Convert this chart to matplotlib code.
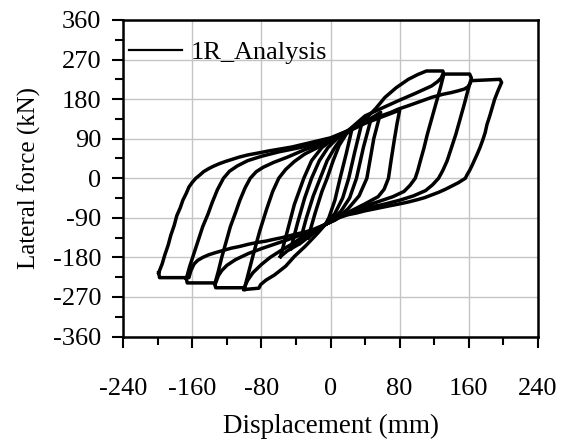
import matplotlib
matplotlib.use("Agg")
import matplotlib.pyplot as plt
from matplotlib.ticker import MultipleLocator

plt.rcParams["font.family"] = ["Liberation Serif", "DejaVu Serif"]
plt.rcParams["axes.unicode_minus"] = False

# hysteresis loops (displacement mm, force kN)
# each loop: negative tip -> reload to positive tip -> unload -> back to negative tip
loop1_disp = [-26, -18, -10, -4, 3, 10, 18, 25, 18, 11, 5, -2, -6, -15, -26]
loop1_force = [-135, -80, -30, 0, 40, 75, 100, 114, 55, 0, -50, -90, -105, -115, -135]

loop2_disp = [-36, -28, -20, -12, -4, 5, 14, 22, 36, 28, 21, 14, 5, -6, -20, -36]
loop2_force = [-148, -90, -40, 0, 40, 70, 95, 110, 124, 60, 0, -45, -80, -105, -122, -148]

loop3_disp = [-46, -38, -30, -22, -13, -3, 10, 20, 35, 47, 38, 30, 22, 12, 0, -6, -20, -35, -46]
loop3_force = [-160, -100, -45, 0, 40, 70, 95, 108, 122, 136, 70, 0, -45, -75, -98, -105, -122, -142, -160]

loop4_disp = [-58, -50, -42, -31, -22, -10, 5, 20, 40, 58, 50, 42, 33, 20, 5, -6, -20, -35, -50, -58]
loop4_force = [-178, -120, -60, 0, 40, 70, 92, 108, 128, 150, 90, 0, -40, -70, -95, -105, -125, -148, -165, -178]

loop5_disp = [-100, -95, -89, -82, -74, -67, -60, -52, -42, -30, -10, 8, 20, 40, 60, 80,
              77, 74, 70, 67, 62, 55, 40, 20, 5, -6, -15, -29, -42, -52, -65, -75, -81, -83, -100]
loop5_force = [-253, -215, -170, -120, -70, -30, 0, 20, 38, 55, 75, 92, 106, 125, 140, 155,
               125, 90, 40, 0, -25, -42, -58, -78, -95, -105, -125, -154, -178, -200, -220, -232, -242, -250, -253]

loop6_disp = [-134, -130, -126, -121, -116, -110, -105, -99, -93, -86, -78, -66, -50, -30, 0, 20, 40, 52,
              63, 76, 90, 101, 111, 130, 131, 127, 122, 117, 112, 108, 104, 101, 98, 92, 85, 72, 60, 45,
              30, 8, -6, -22, -35, -45, -58, -70, -80, -90, -96, -100, -133, -134]
loop6_force = [-240, -212, -180, -145, -110, -78, -50, -22, 0, 15, 25, 36, 48, 65, 85, 106, 134, 158,
               184, 206, 225, 236, 244, 244, 236, 205, 170, 135, 100, 68, 40, 18, 0, -16, -30, -42, -50, -60,
               -70, -90, -105, -124, -137, -150, -165, -180, -196, -215, -232, -249, -249, -240]

loop7_disp = [-167, -163, -158, -153, -148, -142, -137, -131, -124, -117, -108, -96, -80, -60, -30, 0, 20,
              40, 60, 78, 98, 117, 124, 128, 130, 161, 163, 159, 155, 150, 145, 140, 135, 130, 125, 118,
              110, 96, 80, 60, 40, 10, -6, -22, -36, -50, -65, -80, -95, -110, -120, -126, -130, -133,
              -166, -167]
loop7_force = [-228, -200, -170, -140, -110, -82, -55, -26, 0, 16, 28, 40, 50, 60, 72, 90, 108,
               142, 160, 176, 193, 210, 220, 228, 237, 237, 228, 200, 170, 135, 100, 70, 40, 18, 0, -15,
               -28, -40, -50, -60, -68, -88, -105, -120, -130, -140, -150, -160, -171, -185, -198, -210, -222, -238,
               -238, -228]

loop8_disp = [-199, -195, -192, -188, -185, -181, -178, -174, -171, -167, -164, -160, -156, -151, -147,
              -141, -136, -129, -122, -114, -106, -96, -85, -72, -60, -45, -30, -15, 0, 10, 20, 30, 40,
              50, 60, 70, 78, 90, 100, 110, 117, 130, 140, 148, 155, 159, 161, 163, 196, 198, 194, 190,
              187, 184, 181, 179, 176, 173, 170, 167, 164, 161, 158, 156, 152, 148, 144, 140, 133, 125,
              117, 109, 100, 90, 78, 70, 60, 50, 40, 30, 20, 9, -6, -22, -31, -40, -48, -56, -66, -75,
              -85, -95, -105, -115, -124, -133, -141, -148, -154, -158, -160, -162, -164, -198, -199]
loop8_force = [-215, -195, -175, -152, -130, -107, -85, -67, -50, -34, -20, -9, 0, 8, 15,
               22, 27, 33, 38, 43, 48, 53, 57, 62, 66, 71, 78, 85, 92, 100, 108, 118, 127,
               135, 143, 150, 157, 165, 172, 179, 184, 191, 195, 199, 203, 208, 214, 222, 225, 218, 200, 180,
               160, 140, 122, 104, 86, 70, 56, 43, 30, 18, 8, 0, -5, -10, -14, -18, -25, -32,
               -38, -44, -49, -54, -59, -62, -66, -70, -74, -79, -83, -90, -105, -118, -123, -127, -131, -135, -139, -143,
               -146, -150, -155, -159, -164, -169, -174, -180, -187, -195, -203, -212, -226, -226, -215]

loops = [
    (loop1_disp, loop1_force),
    (loop2_disp, loop2_force),
    (loop3_disp, loop3_force),
    (loop4_disp, loop4_force),
    (loop5_disp, loop5_force),
    (loop6_disp, loop6_force),
    (loop7_disp, loop7_force),
    (loop8_disp, loop8_force),
]

fig = plt.figure(figsize=(5.68, 4.44), dpi=100)
ax = fig.add_axes([0.217, 0.242, 0.947 - 0.217, 0.955 - 0.242])

for i, (d, f) in enumerate(loops):
    ax.plot(d, f, color="black", linewidth=2.5, solid_joinstyle="round",
            label="1R_Analysis" if i == 0 else None, zorder=3)

ax.set_xlim(-240, 240)
ax.set_ylim(-360, 360)
ax.xaxis.set_major_locator(MultipleLocator(80))
ax.xaxis.set_minor_locator(MultipleLocator(40))
ax.yaxis.set_major_locator(MultipleLocator(90))
ax.yaxis.set_minor_locator(MultipleLocator(45))
ax.grid(True, which="major", color="#c4c4c4", linewidth=1.0, zorder=0)

for s in ax.spines.values():
    s.set_linewidth(1.8)
ax.tick_params(which="both", direction="out", top=False, right=False, width=1.5, labelsize=19)
ax.tick_params(which="major", length=8)
ax.tick_params(which="minor", length=6)
ax.tick_params(axis="x", pad=22)
ax.tick_params(axis="y", pad=8)

ax.set_xlabel("Displacement (mm)", fontsize=19.5, labelpad=10)
ax.set_ylabel("Lateral force (kN)", fontsize=18, labelpad=8)

leg = ax.legend(loc="upper left", bbox_to_anchor=(0.014, 0.935), frameon=False, fontsize=19,
                handlelength=2.0, handletextpad=0.35, borderpad=0, borderaxespad=0)
leg.get_lines()[0].set_linewidth(1.6)

fig.savefig("out.png", dpi=100)
